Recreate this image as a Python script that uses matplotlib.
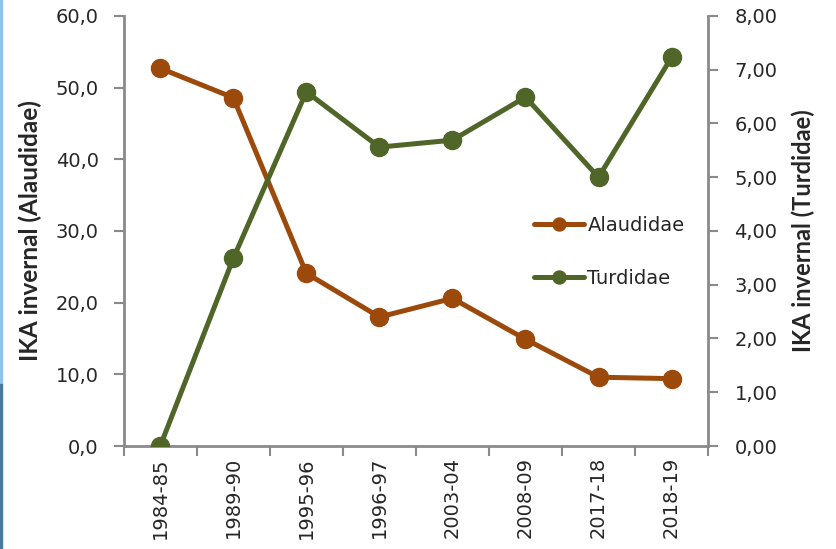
import matplotlib

matplotlib.use("Agg")
import matplotlib.pyplot as plt
from matplotlib.patches import Rectangle
from matplotlib.ticker import FuncFormatter, MultipleLocator

plt.rcParams["font.family"] = ["DejaVu Sans"]

SEASONS = ["1984-85", "1989-90", "1995-96", "1996-97", "2003-04", "2008-09", "2017-18", "2018-19"]
ALAUDIDAE = [52.7, 48.6, 24.1, 18.0, 20.6, 14.9, 9.6, 9.4]
TURDIDAE = [0.00, 3.49, 6.59, 5.56, 5.69, 6.49, 5.00, 7.23]

BROWN = "#9C4A0C"
GREEN = "#4F6628"
AXIS_GREY = "#8A8A8A"
TEXT = "#262626"


def comma_fmt(decimals):
    return FuncFormatter(lambda v, _: f"{v:.{decimals}f}".replace(".", ","))


fig = plt.figure(figsize=(8.36, 5.49), dpi=100)

# slide background peeking in at the left edge
fig.patches.append(Rectangle((0, 0.30), 0.0025, 0.70, transform=fig.transFigure, color="#8EC4EC", zorder=0))
fig.patches.append(Rectangle((0, 0.0), 0.0025, 0.30, transform=fig.transFigure, color="#4A7A99", zorder=0))

ax = fig.add_axes([0.148, 0.1876, 0.699, 0.7833])
ax2 = ax.twinx()

x = list(range(len(SEASONS)))
line_kw = dict(linewidth=3.6, marker="o", markersize=13, solid_capstyle="round")
h1, = ax.plot(x, ALAUDIDAE, color=BROWN, label="Alaudidae", zorder=3, **line_kw)
h2, = ax2.plot(x, TURDIDAE, color=GREEN, label="Turdidae", zorder=3, **line_kw)

ax.set_xlim(-0.5, len(SEASONS) - 0.5)
ax.set_ylim(0, 60)
ax2.set_ylim(0, 8)
ax.yaxis.set_major_locator(MultipleLocator(10))
ax2.yaxis.set_major_locator(MultipleLocator(1))
ax.yaxis.set_major_formatter(comma_fmt(1))
ax2.yaxis.set_major_formatter(comma_fmt(2))

# category ticks sit between the points, labels at the points
ax.set_xticks([i - 0.5 for i in range(len(SEASONS) + 1)])
ax.set_xticklabels([])
ax.set_xticks(x, minor=True)
ax.set_xticklabels(SEASONS, minor=True, rotation=90, fontsize=14, color=TEXT)
ax.tick_params(axis="x", which="minor", length=0, pad=8)
ax.tick_params(axis="x", which="major", length=7, width=1.5, color=AXIS_GREY, direction="out")

ax.tick_params(axis="y", length=7, width=1.5, color=AXIS_GREY, labelsize=14, labelcolor=TEXT, pad=11)
ax2.tick_params(axis="y", length=7, width=1.5, color=AXIS_GREY, labelsize=14, labelcolor=TEXT, pad=12)

ax.spines["top"].set_visible(False)
ax.spines["right"].set_visible(False)
for side in ("top", "left", "bottom"):
    ax2.spines[side].set_visible(False)
for a, side in ((ax, "left"), (ax, "bottom"), (ax2, "right")):
    a.spines[side].set_color(AXIS_GREY)
    a.spines[side].set_linewidth(2)

label_font = dict(family=["Lato", "DejaVu Sans"], fontweight="bold", color=TEXT)
ax.set_ylabel("IKA invernal (Alaudidae)", fontsize=17.5, **label_font)
ax2.set_ylabel("IKA invernal (Turdidae)", fontsize=17, **label_font)
ax.yaxis.set_label_coords(-0.139, 0.5)
ax2.yaxis.set_label_coords(1.143, 0.5)

leg = ax2.legend(
    handles=[h1, h2],
    loc="center left",
    bbox_to_anchor=(0.672, 0.452),
    frameon=False,
    fontsize=14,
    handlelength=2.55,
    labelspacing=1.75,
    handletextpad=0.2,
    markerscale=0.72,
)
for t in leg.get_texts():
    t.set_color(TEXT)

fig.savefig("out.png", dpi=100)
